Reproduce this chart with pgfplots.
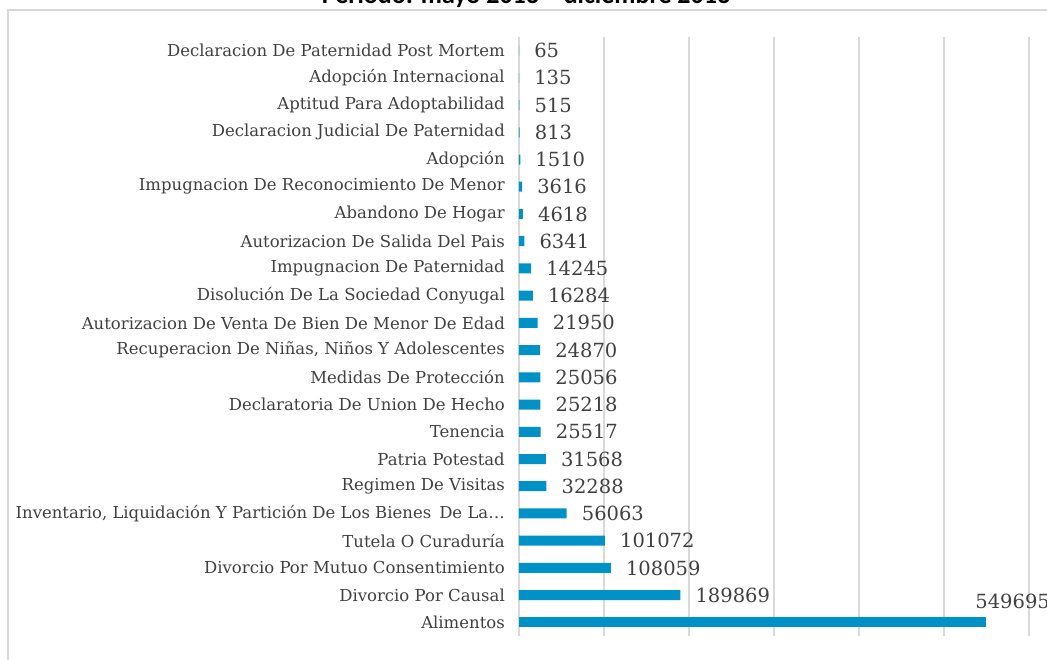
\documentclass[border=0pt]{standalone}
\usepackage{fontspec}
\setmainfont{DejaVu Serif}
\newfontfamily\titlefont{Carlito}
\usepackage{pgfplots}
\pgfplotsset{compat=1.18}
\definecolor{barblue}{HTML}{0092C7}
\definecolor{txtgray}{HTML}{404040}
\definecolor{gridgray}{HTML}{D9D9D9}
\begin{document}
\begin{tikzpicture}
\begin{axis}[
  at={(519pt,24pt)}, anchor=south west,
  scale only axis, width=510pt, height=599pt,
  xbar, bar width=10pt, bar shift=0pt,
  xmin=0, xmax=600000,
  ymin=-0.5, ymax=21.5,
  xtick={0,100000,...,600000}, xticklabels={}, scaled x ticks=false,
  xmajorgrids, major grid style={gridgray, line width=1.5pt},
  axis line style={draw=none},
  major tick length=0pt,
  ytick={0,...,21},
  yticklabels={{Alimentos},{Divorcio Por Causal},{Divorcio Por Mutuo Consentimiento},{Tutela O Curaduría},{Inventario, Liquidación Y Partición De Los Bienes\, De La\dots},{Regimen De Visitas},{Patria Potestad},{Tenencia},{Declaratoria De Union De Hecho},{Medidas De Protección},{Recuperacion De Niñas, Niños Y Adolescentes},{Autorizacion De Venta De Bien De Menor De Edad},{Disolución De La Sociedad Conyugal},{Impugnacion De Paternidad},{Autorizacion De Salida Del Pais},{Abandono De Hogar},{Impugnacion De Reconocimiento De Menor},{Adopción},{Declaracion Judicial De Paternidad},{Aptitud Para Adoptabilidad},{Adopción Internacional},{Declaracion De Paternidad Post Mortem}},
  yticklabel style={font=\fontsize{16.5}{20}\selectfont, text=txtgray, inner sep=0pt, xshift=-14pt},
  nodes near coords,
  nodes near coords style={font=\fontsize{19.5}{22}\selectfont, text=txtgray, anchor=west, inner sep=0pt, xshift=15pt},
  point meta=explicit symbolic,
  clip=false,
]
\addplot[fill=barblue, draw=none] coordinates {
(189869,1) [189869]
(108059,2) [108059]
(101072,3) [101072]
(56063,4) [56063]
(32288,5) [32288]
(31568,6) [31568]
(25517,7) [25517]
(25218,8) [25218]
(25056,9) [25056]
(24870,10) [24870]
(21950,11) [21950]
(16284,12) [16284]
(14245,13) [14245]
(6341,14) [6341]
(4618,15) [4618]
(3616,16) [3616]
(1510,17) [1510]
(813,18) [813]
(515,19) [515]
(135,20) [135]
(65,21) [65]
};
\addplot[fill=barblue, draw=none, nodes near coords style={xshift=-26pt, yshift=21pt}] coordinates {
(549695,0) [549695]
};
\end{axis}
\draw[gridgray, line width=1.5pt] (8pt,-20pt) -- (8pt,650pt) -- (1100pt,650pt);
\node[anchor=base, font=\titlefont\bfseries\fontsize{26}{30}\selectfont, inner sep=0pt] at (526pt,656pt) {Periodo: mayo 2013 – diciembre 2013};
\pgfresetboundingbox
\useasboundingbox (0,0) rectangle (1047pt,660pt);
\end{tikzpicture}
\end{document}
